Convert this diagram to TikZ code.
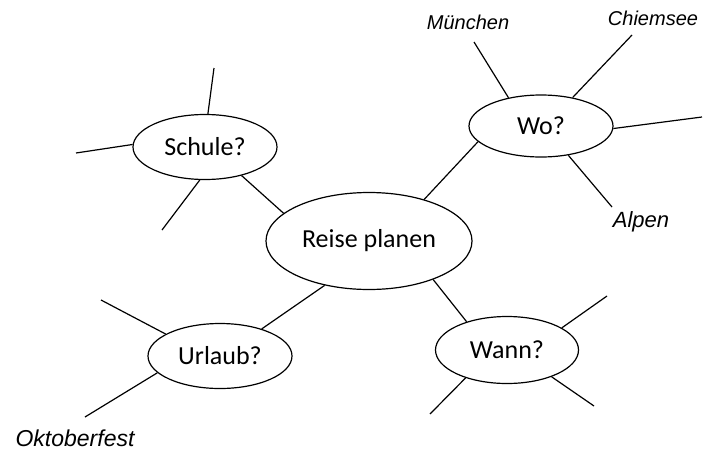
\documentclass[tikz,border=0pt]{standalone}
\usepackage{fontspec}
\setmainfont{Carlito}
\newfontfamily\handfont{Liberation Sans}
\usetikzlibrary{shapes.geometric}
\begin{document}
\begin{tikzpicture}[x=1pt,y=-1pt,
  bubble/.style={draw, ellipse, line width=1.2pt, inner sep=0pt, font=\fontsize{26}{30}\selectfont},
  small/.style={bubble, minimum width=144pt, minimum height=65pt},
  spoke/.style={line width=1.2pt},
  hand/.style={font=\handfont\itshape\fontsize{20}{24}\selectfont}]
\useasboundingbox (0,0) rectangle (703,455);
\node[bubble, minimum width=206pt, minimum height=97pt] (reise) at (369,241) {Reise planen};
\node[small] (schule) at (205,147) {Schule?};
\node[small, minimum height=62pt] (wo) at (541,126) {Wo?};
\node[small] (urlaub) at (220,356) {Urlaub?};
\node[small, minimum width=143pt, minimum height=67pt] (wann) at (507,350) {Wann?};

\node[hand] (muenchen) at (468,22) {München};
\node[hand] (chiemsee) at (653,18) {Chiemsee};
\node[hand, font=\handfont\itshape\fontsize{22}{26}\selectfont] (alpen) at (641,222) {Alpen};
\node[hand, font=\handfont\itshape\fontsize{23}{26}\selectfont] (okt) at (75,438) {Oktoberfest};

\coordinate (s1) at (214,68);
\coordinate (s2) at (76,153);
\coordinate (s3) at (162,230);
\coordinate (w1) at (474,42);
\coordinate (w2) at (632,35);
\coordinate (w3) at (702,117);
\coordinate (w4) at (612,207);
\coordinate (u1) at (101,300);
\coordinate (u2) at (85,417);
\coordinate (n1) at (607,296);
\coordinate (n2) at (594,406);
\coordinate (n3) at (430,414);

\draw[spoke] (schule.322) -- (reise.162);
\draw[spoke] (wo.194) -- (reise.37);
\draw[spoke] (urlaub.33) -- (reise.225);
\draw[spoke] (wann.145) -- (reise.329);

\draw[spoke] (schule.85) -- (s1);
\draw[spoke] (schule.178) -- (s2);
\draw[spoke] (schule.261) -- (s3);
\draw[spoke] (wo.139.5) -- (w1);
\draw[spoke] (wo.42) -- (w2);
\draw[spoke] (wo.358) -- (w3);
\draw[spoke] (wo.313) -- (w4);
\draw[spoke] (urlaub.158) -- (u1);
\draw[spoke] (urlaub.195) -- (u2);
\draw[spoke] (wann.22) -- (n1);
\draw[spoke] (wann.329) -- (n2);
\draw[spoke] (wann.214) -- (n3);
\end{tikzpicture}
\end{document}
